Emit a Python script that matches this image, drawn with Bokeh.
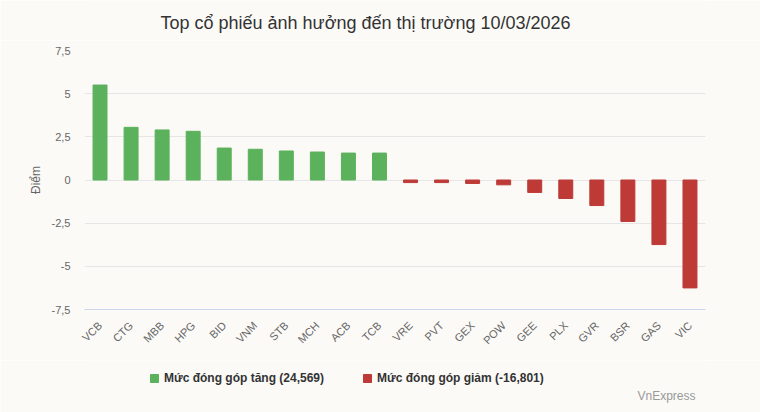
from bokeh.plotting import figure
from bokeh.layouts import column
from bokeh.models import FactorRange, Range1d, FixedTicker, Label, Legend, LegendItem, ColumnDataSource
from bokeh.embed import file_html
from bokeh.resources import INLINE
import math

title_text = "Top cổ phiếu ảnh hưởng đến thị trường 10/03/2026"
up_tickers = ["VCB", "CTG", "MBB", "HPG", "BID", "VNM", "STB", "MCH", "ACB", "TCB"]
up_values = [5.5, 3.05, 2.9, 2.82, 1.85, 1.78, 1.68, 1.62, 1.56, 1.56]
down_tickers = ["VRE", "PVT", "GEX", "POW", "GEE", "PLX", "GVR", "BSR", "GAS", "VIC"]
down_values = [-0.15, -0.15, -0.2, -0.28, -0.72, -1.07, -1.48, -2.4, -3.74, -6.25]
up_label = "Mức đóng góp tăng (24,569)"
down_label = "Mức đóng góp giảm (-16,801)"
y_ticks = [-7.5, -5, -2.5, 0, 2.5, 5, 7.5]
y_tick_labels = ["-7,5", "-5", "-2,5", "0", "2,5", "5", "7,5"]
source_text = "VnExpress"

FONT = "Liberation Sans"
GREEN = "#5cb25c"
RED = "#bd3a36"
BG = "#fbfaf7"

cats = up_tickers + down_tickers
xr = FactorRange(*cats, range_padding=0)
up_src = ColumnDataSource(dict(x=up_tickers, top=up_values))
down_src = ColumnDataSource(dict(x=down_tickers, top=down_values))


def strip(h):
    # a bare strip that shares the chart's x range; its y range lies far above the data
    f = figure(width=760, height=h, x_range=xr, y_range=Range1d(100, 101),
               x_axis_type=None, y_axis_type=None, output_backend="svg", toolbar_location=None,
               min_border_left=84, min_border_right=55, min_border_top=0, min_border_bottom=0)
    f.background_fill_color = BG
    f.border_fill_color = BG
    f.outline_line_color = None
    f.grid.grid_line_color = None
    return f


# title strip (screen units are relative to the frame, which starts at x=84)
t = strip(40)
t.add_layout(Label(x=281, y=18, x_units="screen", y_units="screen", text=title_text,
                   text_font=FONT, text_font_size="18px", text_color="#333333",
                   text_align="center", text_baseline="middle"))

# main chart
p = figure(width=760, height=320, x_range=xr,
           y_range=Range1d(-7.5, 7.5), output_backend="svg", toolbar_location=None,
           min_border_left=84, min_border_right=55, min_border_top=10, min_border_bottom=51)
p.background_fill_color = BG
p.border_fill_color = BG
p.outline_line_color = None

p.vbar(x="x", top="top", bottom=0, width=0.45, source=up_src, color=GREEN)
p.vbar(x="x", top="top", bottom=0, width=0.45, source=down_src, color=RED)

p.xgrid.grid_line_color = None
p.ygrid.grid_line_color = "#e6e6e6"
p.yaxis.ticker = FixedTicker(ticks=y_ticks)
p.yaxis.major_label_overrides = {t_: l for t_, l in zip(y_ticks, y_tick_labels)}
p.yaxis.axis_line_color = None
p.yaxis.major_tick_line_color = None
p.yaxis.minor_tick_line_color = None
p.yaxis.major_label_standoff = 8
p.yaxis.major_label_text_font = FONT
p.yaxis.major_label_text_font_size = "11px"
p.yaxis.major_label_text_color = "#666666"
p.yaxis.axis_label = "Điểm"
p.yaxis.axis_label_text_font = FONT
p.yaxis.axis_label_text_font_size = "12px"
p.yaxis.axis_label_text_font_style = "normal"
p.yaxis.axis_label_text_color = "#666666"
p.yaxis.axis_label_standoff = 6

p.xaxis.axis_line_color = "#ccd6eb"
p.xaxis.major_tick_line_color = None
p.xaxis.minor_tick_line_color = None
p.xaxis.major_label_standoff = 8
p.xaxis.major_label_orientation = math.pi / 4
p.xaxis.major_label_text_font = FONT
p.xaxis.major_label_text_font_size = "11px"
p.xaxis.major_label_text_color = "#666666"

# legend strip (bars sit outside its y range, so only the legend swatches show)
g = strip(52)
g_up = g.vbar(x="x", top="top", bottom=0, width=0.45, source=up_src, color=GREEN)
g_down = g.vbar(x="x", top="top", bottom=0, width=0.45, source=down_src, color=RED)
legend = Legend(items=[LegendItem(label=up_label, renderers=[g_up]),
                       LegendItem(label=down_label, renderers=[g_down])],
                orientation="horizontal", location=(65, 27), padding=0,
                background_fill_alpha=0, border_line_color=None,
                label_text_font=FONT, label_text_font_size="12px",
                label_text_font_style="bold", label_text_color="#333333",
                glyph_width=10, glyph_height=10, spacing=38, label_standoff=5)
g.add_layout(legend)
g.add_layout(Label(x=611, y=17, x_units="screen", y_units="screen", text=source_text,
                   text_font=FONT, text_font_size="12px", text_color="#999999",
                   text_align="right", text_baseline="middle"))

open("out.html", "w").write(file_html(column(t, p, g, spacing=0), INLINE))
